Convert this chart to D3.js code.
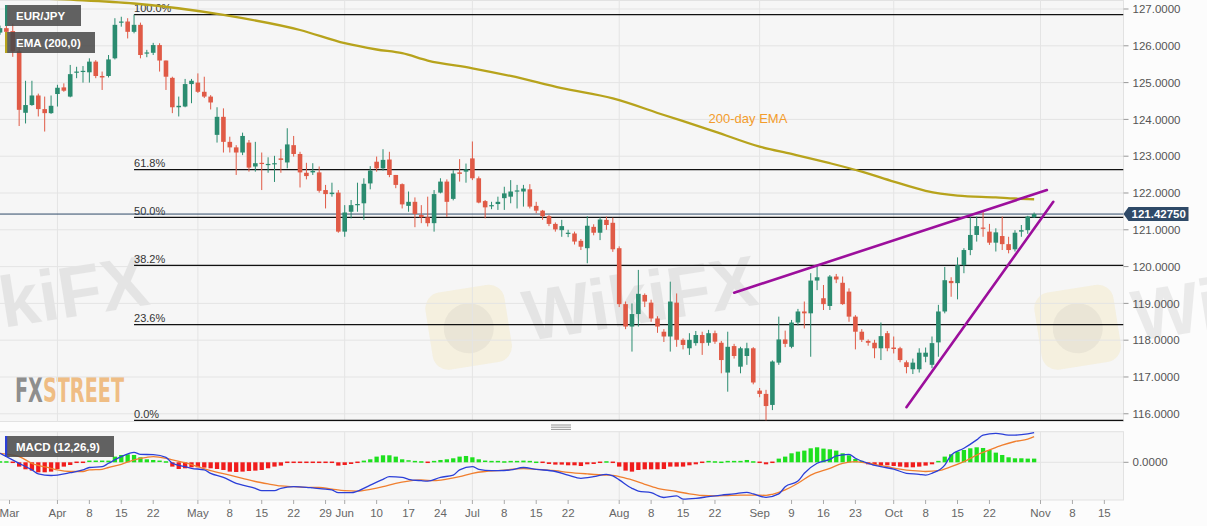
<!DOCTYPE html>
<html>
<head>
<meta charset="utf-8">
<script src="https://cdn.jsdelivr.net/npm/d3@7"></script>
<style>
  html, body { margin: 0; padding: 0; background: #fcfcfc; }
  svg { display: block; font-family: "Liberation Sans", Arial, sans-serif; }
</style>
</head>
<body>
<svg id="chart" width="1207" height="526"></svg>
<script>
// ---- data (EUR/JPY daily, 19 Mar 2019 -> 31 Oct 2019) ----
const firstDay = "2019-03-19";
const lastAxisDay = "2019-11-20";

const open = [
  126.36,126.48,126.40,125.85,124.18,124.39,124.65,124.28,124.17,
  124.69,124.87,124.62,125.28,125.30,125.28,125.57,125.18,125.18,125.66,
  126.63,126.66,126.38,126.57,125.80,125.81,126.02,125.60,125.13,124.33,
  124.35,124.96,125.00,124.75,124.62,123.58,124.07,123.39,123.24,123.10,
  123.37,122.72,122.82,122.76,122.79,122.94,122.83,123.30,123.06,122.55,
  122.56,122.56,122.08,121.97,122.01,120.95,121.49,121.67,121.72,122.26,
  122.85,122.67,122.91,122.49,122.24,121.65,121.76,121.40,121.34,121.18,
  122.01,122.31,121.84,122.56,122.58,122.94,122.40,121.78,121.64,121.70,
  121.86,121.90,122.04,122.04,122.10,121.65,121.52,121.37,121.16,120.99,
  120.89,120.90,120.70,120.50,121.08,120.92,121.27,121.19,120.50,118.98,
  118.37,118.71,119.23,119.02,118.59,118.23,118.10,119.02,118.01,117.78,
  117.92,118.14,117.93,118.19,117.93,117.12,117.84,117.28,117.57,117.78,
  116.63,116.54,116.24,117.39,118.02,117.82,118.48,118.78,118.73,119.62,
  119.14,118.93,119.73,119.56,119.32,118.64,118.23,117.98,117.93,117.78,
  118.19,117.80,117.78,117.40,117.21,117.21,117.55,117.33,117.94,118.78,
  119.61,119.55,120.04,120.45,120.86,121.06,120.95,120.65,120.83,120.61,
  120.47,120.95,120.99,121.34
];
const high = [
  126.55,126.60,126.60,125.95,125.05,125.05,124.70,124.62,124.65,
  124.94,124.98,125.48,125.43,125.45,125.66,125.61,125.30,125.75,126.75,
  126.79,126.75,126.85,126.63,125.89,126.08,126.07,125.60,125.16,124.62,
  125.10,125.10,125.25,125.16,124.66,124.33,124.30,123.53,123.30,123.64,
  123.44,123.39,123.10,122.97,123.01,123.19,123.76,123.55,123.12,122.82,
  122.81,122.72,122.22,122.28,122.08,121.67,121.81,122.28,122.40,122.73,
  122.99,123.19,123.12,122.49,122.26,122.04,121.88,121.67,121.90,122.08,
  122.40,122.37,122.62,122.92,122.80,123.40,122.45,121.81,121.76,121.90,
  122.17,122.35,122.22,122.22,122.24,121.76,121.54,121.40,121.20,121.27,
  121.00,120.95,120.75,121.37,121.15,121.34,121.36,121.33,120.55,119.05,
  119.00,119.91,119.27,119.10,118.65,118.30,119.59,119.27,118.05,118.19,
  118.25,118.23,118.28,118.26,117.98,118.23,117.90,117.82,117.93,117.81,
  116.70,116.65,117.45,118.64,118.26,118.55,118.85,119.05,119.82,120.02,
  119.50,119.77,119.80,119.73,119.41,118.68,118.30,118.02,118.01,118.48,
  118.25,118.10,117.82,117.45,117.50,117.78,117.80,118.10,118.96,119.99,
  119.71,120.25,120.50,121.36,121.36,121.49,121.16,121.04,121.36,120.81,
  120.99,121.13,121.38,121.47
];
const low = [
  126.30,126.30,125.70,123.82,123.89,124.37,124.08,123.67,124.15,
  124.35,124.75,124.60,125.12,125.00,125.00,125.12,124.80,125.14,125.63,
  126.52,126.20,126.34,125.66,125.69,125.75,125.30,124.80,124.17,124.08,
  124.33,124.44,124.72,124.58,124.27,123.37,123.10,123.10,122.49,123.03,
  122.58,122.58,122.08,122.55,122.30,122.55,122.67,122.99,122.15,122.37,
  122.49,122.01,121.58,121.90,120.92,120.81,121.31,121.49,121.27,122.10,
  122.58,122.61,122.43,122.13,121.58,121.49,121.07,121.18,121.09,120.95,
  121.99,121.35,121.80,122.31,122.28,122.35,121.72,121.31,121.56,121.54,
  121.54,121.72,121.58,121.63,121.58,121.45,121.27,121.10,120.95,120.81,
  120.80,120.60,120.45,120.09,120.85,120.72,121.00,120.40,118.90,118.30,
  117.69,118.37,118.90,118.50,118.20,117.95,117.69,117.82,117.75,117.60,
  117.85,117.60,117.85,117.90,117.10,116.60,117.50,117.10,117.33,116.80,
  116.45,115.82,116.10,117.33,117.81,117.78,118.40,118.32,117.55,119.36,
  118.82,118.82,119.55,118.96,118.50,117.75,117.95,117.85,117.51,117.46,
  117.70,117.64,117.40,117.10,117.08,117.12,117.40,117.24,117.55,118.73,
  119.18,119.11,119.82,120.31,120.68,120.81,120.59,120.41,120.45,120.36,
  120.41,120.81,120.89,121.32
];
const close = [
  126.48,126.38,125.85,124.26,124.39,124.65,124.28,124.17,124.37,
  124.86,124.78,125.23,125.30,125.32,125.57,125.18,125.14,125.63,126.57,
  126.66,126.38,126.57,125.75,125.82,126.02,125.60,125.16,124.33,124.37,
  124.96,125.05,124.75,124.62,124.46,124.07,123.39,123.24,123.10,123.55,
  122.69,122.81,122.79,122.79,122.81,122.90,123.32,123.06,122.56,122.46,
  122.60,122.06,121.97,122.01,120.95,121.47,121.67,121.70,122.25,122.61,
  122.67,122.90,122.49,122.22,121.69,121.76,121.43,121.34,121.18,121.97,
  122.31,121.76,122.53,122.52,122.64,122.40,121.74,121.61,121.67,121.76,
  121.99,122.04,122.07,122.12,121.63,121.52,121.37,121.16,121.01,121.10,
  120.92,120.68,120.54,121.11,120.92,121.28,121.13,120.47,118.98,118.37,
  118.71,119.26,119.05,118.59,118.37,118.10,119.05,118.01,117.87,118.01,
  118.14,117.92,118.19,117.96,117.46,117.82,117.57,117.78,117.78,116.85,
  116.54,116.21,117.42,118.02,117.90,118.48,118.78,118.73,119.62,119.71,
  118.98,119.73,119.65,118.98,118.64,118.23,118.01,117.93,117.78,118.11,
  117.78,117.76,117.46,117.27,117.39,117.66,117.66,117.92,118.78,119.63,
  119.55,120.04,120.45,120.86,121.10,121.04,120.65,120.93,120.61,120.45,
  120.92,120.99,121.36,121.43
];

// 200-day EMA, [trading-day number, value]
const ema200 = [
  [0,127.32],[12,127.245],[21,127.15],[35,126.84],[47,126.43],[54,126.07],
  [59,125.90],[63,125.80],[67,125.60],[74,125.39],[80,125.18],[88,124.85],
  [96,124.57],[104,124.12],[112,123.67],[119,123.26],[124,123.06],[130,122.81],
  [135,122.58],[140,122.31],[145,122.06],[150,121.93],[156,121.88],[159,121.85],
  [162,121.83]
];

// MACD (12,26,9)
const macdLine = [
  [0,0.225],[3,-0.025],[5,-0.19],[6,-0.29],[8,-0.33],[9,-0.32],[11,-0.26],[13,-0.19],
  [14,-0.13],[16,-0.11],[17,-0.025],[19,0.14],[21,0.25],[22,0.2],[24,0.19],[26,0.125],
  [27,-0.025],[29,-0.11],[30,-0.15],[32,-0.19],[33,-0.275],[35,-0.375],[37,-0.525],
  [38,-0.57],[40,-0.65],[41,-0.71],[43,-0.71],[44,-0.65],[46,-0.61],[48,-0.625],
  [49,-0.64],[51,-0.67],[52,-0.69],[53,-0.76],[55,-0.76],[56,-0.72],[58,-0.57],
  [60,-0.425],[61,-0.36],[63,-0.375],[64,-0.425],[66,-0.46],[67,-0.47],[69,-0.375],
  [71,-0.32],[72,-0.19],[74,-0.11],[75,-0.175],[77,-0.21],[78,-0.21],[80,-0.19],
  [82,-0.13],[84,-0.175],[87,-0.23],[89,-0.32],[91,-0.4],[93,-0.36],[95,-0.3],
  [96,-0.34],[97,-0.44],[99,-0.65],[100,-0.72],[102,-0.76],[104,-0.88],[106,-0.84],
  [107,-0.92],[109,-0.9],[111,-0.86],[113,-0.82],[115,-0.79],[117,-0.75],[118,-0.79],
  [120,-0.875],[122,-0.79],[123,-0.61],[125,-0.47],[126,-0.275],[128,-0.025],
  [130,0.075],[131,0.16],[133,0.2],[134,0.1],[136,-0.025],[138,-0.11],[140,-0.17],
  [142,-0.275],[144,-0.3],[145,-0.32],[146,-0.275],[148,-0.07],[149,0.18],[151,0.35],
  [153,0.56],[154,0.68],[156,0.725],[158,0.68],[159,0.68],[161,0.71],[162,0.74]
];
const signalLine = [
  [0,0.225],[3,0.14],[5,-0.025],[8,-0.15],[9,-0.19],[11,-0.23],[13,-0.23],[14,-0.19],
  [16,-0.175],[17,-0.13],[19,-0.05],[21,0.06],[23,0.125],[24,0.14],[26,0.1],[27,0.06],
  [29,-0.01],[31,-0.11],[33,-0.21],[36,-0.32],[38,-0.4],[40,-0.48],[42,-0.54],
  [44,-0.59],[46,-0.61],[48,-0.625],[50,-0.63],[52,-0.67],[54,-0.71],[56,-0.72],
  [58,-0.675],[60,-0.61],[62,-0.525],[64,-0.47],[66,-0.44],[68,-0.46],[70,-0.42],
  [72,-0.36],[74,-0.275],[76,-0.23],[78,-0.21],[82,-0.16],[84,-0.175],[87,-0.21],
  [89,-0.25],[92,-0.29],[95,-0.32],[96,-0.325],[97,-0.36],[99,-0.44],[101,-0.55],
  [103,-0.65],[106,-0.73],[108,-0.79],[110,-0.83],[112,-0.84],[114,-0.83],[116,-0.82],
  [118,-0.82],[120,-0.825],[121,-0.8],[123,-0.69],[125,-0.525],[127,-0.32],[130,-0.15],
  [132,-0.025],[134,0.015],[135,0],[137,-0.05],[139,-0.11],[141,-0.17],[143,-0.21],
  [145,-0.23],[147,-0.21],[149,-0.11],[151,0.015],[153,0.18],[155,0.31],[157,0.43],
  [159,0.52],[161,0.58],[162,0.64]
];
const macdHist = [
  0.008,0.008,-0.017,-0.108,-0.175,-0.208,-0.25,-0.25,-0.233,
  -0.167,-0.108,-0.067,-0.017,-0.008,0.025,0.025,0.025,0.042,0.142,
  0.183,0.2,0.183,0.125,0.075,0.058,0.025,0.008,-0.108,-0.167,
  -0.15,-0.125,-0.125,-0.133,-0.15,-0.167,-0.192,-0.233,-0.242,-0.233,
  -0.217,-0.208,-0.192,-0.15,-0.108,-0.083,-0.025,-0.008,-0.004,-0.017,
  -0.004,-0.025,-0.025,-0.033,-0.083,-0.067,-0.042,-0.017,0.042,0.075,
  0.142,0.175,0.175,0.142,0.075,0.033,0.017,0.008,-0.017,0.017,
  0.058,0.075,0.1,0.142,0.158,0.125,0.075,0.025,0.017,0.017,
  0.008,0.017,0.017,0.042,0.017,0,-0.025,-0.042,-0.058,-0.058,
  -0.075,-0.075,-0.092,-0.05,-0.042,-0.008,0.008,-0.017,-0.108,-0.208,
  -0.233,-0.192,-0.175,-0.175,-0.175,-0.167,-0.108,-0.108,-0.108,-0.075,
  -0.05,-0.025,0.017,0.008,0,0.017,0.017,0.017,0.058,0.008,
  -0.025,-0.05,-0.008,0.092,0.142,0.225,0.267,0.292,0.35,0.375,
  0.342,0.325,0.292,0.225,0.175,0.083,0.017,-0.05,-0.075,-0.075,
  -0.075,-0.092,-0.108,-0.125,-0.125,-0.108,-0.083,-0.05,0.017,0.142,
  0.2,0.267,0.308,0.35,0.375,0.358,0.308,0.242,0.183,0.125,
  0.1,0.1,0.092,0.092
];

// Fibonacci retracement
const swingHigh = 126.85;
const swingLow = 115.82;
const swingHighDay = "2019-04-17";
const fibRatios = [1, 0.618, 0.5, 0.382, 0.236, 0];
const fibLabels = ["100.0%", "61.8%", "50.0%", "38.2%", "23.6%", "0.0%"];

// trend lines
const upperTrend = [["2019-08-27", 119.29], ["2019-11-04", 122.08]];
const lowerTrend = [["2019-10-03", 116.18], ["2019-11-05", 121.76]];

const lastPrice = 121.4275;
const priceTicks = [116, 117, 118, 119, 120, 121, 122, 123, 124, 125, 126, 127];

const monthStarts = ["2019-04-01","2019-05-01","2019-06-03","2019-07-01","2019-08-01","2019-09-02","2019-10-01","2019-11-01"];
const tickDays = ["2019-03-01","2019-04-01","2019-04-08","2019-04-15","2019-04-22","2019-05-01","2019-05-08",
  "2019-05-15","2019-05-22","2019-05-29","2019-06-03","2019-06-10","2019-06-17","2019-06-24","2019-07-01",
  "2019-07-08","2019-07-15","2019-07-22","2019-08-01","2019-08-08","2019-08-15","2019-08-22","2019-09-02",
  "2019-09-09","2019-09-16","2019-09-23","2019-10-01","2019-10-08","2019-10-15","2019-10-22","2019-11-01",
  "2019-11-08","2019-11-15"];
const tickLabels = ["Mar","Apr","8","15","22","May","8","15","22","29","Jun","10","17","24","Jul",
  "8","15","22","Aug","8","15","22","Sep","9","16","23","Oct","8","15","22","Nov","8","15"];

// ---- trading-day calendar (weekdays) ----
const days = [];
{
  let t = Date.parse(firstDay + "T00:00:00Z");
  const end = Date.parse(lastAxisDay + "T00:00:00Z");
  while (t <= end) {
    const wd = new Date(t).getUTCDay();
    if (wd !== 0 && wd !== 6) days.push(new Date(t).toISOString().slice(0, 10));
    t += 86400000;
  }
}
const dayIdx = new Map(days.map((d, i) => [d, i]));
const di = (d) => dayIdx.has(d) ? dayIdx.get(d) : -1;

// ---- layout ----
const W = 1207, H = 526;
const plotR = 1123.5;
const mainT = 0, mainB = 421.5;
const subT = 431.7, subB = 500;

const UP = "#2b8c70", DOWN = "#e05a46";

const svg = d3.select("#chart");

const x = d3.scaleLinear().domain([0, days.length - 1]).range([0, plotR]);
const y = d3.scaleLinear().domain([115.79, 127.245]).range([mainB, mainT]);
const ym = d3.scaleLinear().domain([-0.9425, 0.765]).range([subB, subT]);

const defs = svg.append("defs");
defs.append("clipPath").attr("id", "clipMain")
  .append("rect").attr("x", 0).attr("y", mainT).attr("width", plotR).attr("height", mainB - mainT);
defs.append("clipPath").attr("id", "clipSub")
  .append("rect").attr("x", 0).attr("y", subT).attr("width", plotR).attr("height", subB - subT);

svg.append("rect").attr("width", W).attr("height", H).attr("fill", "#fcfcfc");

// panels
svg.append("rect").attr("x", -1).attr("y", mainT + 0.5).attr("width", plotR + 1).attr("height", mainB - mainT - 0.5)
  .attr("fill", "#f6f6f6").attr("stroke", "#e2e2e2");
svg.append("rect").attr("x", -1).attr("y", subT).attr("width", plotR + 1).attr("height", subB - subT)
  .attr("fill", "#f6f6f6").attr("stroke", "#e2e2e2");

// watermark (logo tiles; the word only on the middle row)
const wm = svg.append("g").attr("pointer-events", "none");
[[423, 295, true], [-186, 295, true], [1032, 295, true], [430, -80, false], [1039, -80, false]].forEach(([lx, ly, word]) => {
  const t = wm.append("g").attr("transform", `translate(${lx},${ly}) rotate(-9)`);
  t.append("rect").attr("width", 80).attr("height", 78).attr("rx", 16)
    .attr("fill", "#f2dc8c").attr("opacity", 0.22);
  t.append("circle").attr("cx", 40).attr("cy", 40).attr("r", 25)
    .attr("fill", "#8a8a8a").attr("opacity", 0.1);
  if (word) {
    t.append("text").attr("x", 96).attr("y", 62).text("WikiFX")
      .attr("font-size", 72).attr("font-weight", "bold")
      .attr("textLength", 236).attr("lengthAdjust", "spacingAndGlyphs")
      .attr("fill", "#000").attr("opacity", 0.065);
  }
});

// FXSTREET logo
const fx = svg.append("text").attr("x", 15).attr("y", 401.5)
  .attr("font-family", "'Liberation Sans Narrow','DejaVu Sans Condensed',sans-serif")
  .attr("font-weight", "bold").attr("font-size", 34)
  .attr("textLength", 109).attr("lengthAdjust", "spacingAndGlyphs");
fx.append("tspan").attr("fill", "#8e8e8e").text("FX");
fx.append("tspan").attr("fill", "#efbd84").text("STREET");

// grid
const gGrid = svg.append("g").attr("stroke", "#e4e4e4").attr("stroke-width", 1);
gGrid.selectAll("line.h").data(priceTicks).join("line").attr("class", "h")
  .attr("x1", 0).attr("x2", plotR).attr("y1", d => y(d)).attr("y2", d => y(d));
monthStarts.forEach(d => {
  const xx = x(di(d));
  gGrid.append("line").attr("x1", xx).attr("x2", xx).attr("y1", mainT).attr("y2", mainB);
  gGrid.append("line").attr("x1", xx).attr("x2", xx).attr("y1", subT).attr("y2", subB);
});
gGrid.append("line").attr("x1", 0).attr("x2", plotR).attr("y1", ym(0)).attr("y2", ym(0));

const gMain = svg.append("g").attr("clip-path", "url(#clipMain)");

// fib lines
const fibX0 = x(di(swingHighDay));
fibRatios.forEach((r, k) => {
  const p = swingLow + r * (swingHigh - swingLow);
  gMain.append("line").attr("x1", fibX0).attr("x2", plotR).attr("y1", y(p)).attr("y2", y(p))
    .attr("stroke", "#111").attr("stroke-width", 1.3);
  gMain.append("text").attr("x", fibX0).attr("y", y(p) - 2.5).text(fibLabels[k])
    .attr("font-size", 11).attr("fill", "#333");
});

// EMA
gMain.append("path").datum(ema200)
  .attr("d", d3.line().x(d => x(d[0])).y(d => y(d[1])).curve(d3.curveMonotoneX))
  .attr("fill", "none").attr("stroke", "#b7a31c").attr("stroke-width", 2.3);

// current price line
gMain.append("line").attr("x1", 0).attr("x2", plotR).attr("y1", y(lastPrice)).attr("y2", y(lastPrice))
  .attr("stroke", "#2f4a68").attr("stroke-width", 1);

// candles
const idx = d3.range(open.length);
const bw = 4.6;
gMain.append("g").selectAll("line").data(idx).join("line")
  .attr("x1", i => x(i)).attr("x2", i => x(i))
  .attr("y1", i => y(high[i])).attr("y2", i => y(low[i]))
  .attr("stroke", i => close[i] >= open[i] ? UP : DOWN).attr("stroke-width", 1);
gMain.append("g").selectAll("rect").data(idx).join("rect")
  .attr("x", i => x(i) - bw / 2).attr("width", bw)
  .attr("y", i => y(Math.max(open[i], close[i])))
  .attr("height", i => Math.max(1.2, Math.abs(y(open[i]) - y(close[i]))))
  .attr("fill", i => close[i] >= open[i] ? UP : DOWN);

// trend lines
[upperTrend, lowerTrend].forEach(tl => {
  gMain.append("line")
    .attr("x1", x(di(tl[0][0]))).attr("y1", y(tl[0][1]))
    .attr("x2", x(di(tl[1][0]))).attr("y2", y(tl[1][1]))
    .attr("stroke", "#9c0f9c").attr("stroke-width", 2.6).attr("stroke-linecap", "round");
});

// annotation
gMain.append("text").attr("x", x(di("2019-08-21"))).attr("y", y(123.9)).text("200-day EMA")
  .attr("font-size", 13).attr("fill", "#f39c2c");

// right price axis
const gAx = svg.append("g");
priceTicks.forEach(p => {
  gAx.append("line").attr("x1", plotR).attr("x2", plotR + 5).attr("y1", y(p)).attr("y2", y(p)).attr("stroke", "#999");
  gAx.append("text").attr("x", plotR + 9).attr("y", y(p)).attr("dy", "0.36em")
    .attr("font-size", 11.5).attr("fill", "#555").text(p.toFixed(4));
});
gAx.append("line").attr("x1", plotR).attr("x2", plotR + 5).attr("y1", ym(0)).attr("y2", ym(0)).attr("stroke", "#999");
gAx.append("text").attr("x", plotR + 9).attr("y", ym(0)).attr("dy", "0.36em")
  .attr("font-size", 11.5).attr("fill", "#555").text((0).toFixed(4));

// last price tag
const py = y(lastPrice);
gAx.append("path")
  .attr("d", `M${plotR},${py} L${plotR + 5},${py - 7} L${plotR + 65},${py - 7} L${plotR + 65},${py + 7} L${plotR + 5},${py + 7} Z`)
  .attr("fill", "#2f4a68");
gAx.append("text").attr("x", plotR + 8).attr("y", py).attr("dy", "0.36em")
  .attr("font-size", 11.5).attr("font-weight", "bold").attr("fill", "#fff").text(lastPrice.toFixed(5));

// MACD panel
const gSub = svg.append("g").attr("clip-path", "url(#clipSub)");
const hw = 4.3;
gSub.append("g").selectAll("rect").data(d3.range(macdHist.length)).join("rect")
  .attr("x", i => x(i) - hw / 2).attr("width", hw)
  .attr("y", i => Math.min(ym(0), ym(macdHist[i])) - (Math.abs(ym(macdHist[i]) - ym(0)) < 1.5 ? 0.75 : 0))
  .attr("height", i => Math.max(1.5, Math.abs(ym(macdHist[i]) - ym(0))))
  .attr("fill", i => macdHist[i] >= 0 ? "#1ee01e" : "#f01c1c");
const ml = d3.line().x(d => x(d[0])).y(d => ym(d[1])).curve(d3.curveMonotoneX);
gSub.append("path").datum(signalLine).attr("d", ml)
  .attr("fill", "none").attr("stroke", "#f07f2f").attr("stroke-width", 1.3);
gSub.append("path").datum(macdLine).attr("d", ml)
  .attr("fill", "none").attr("stroke", "#2b3fd8").attr("stroke-width", 1.3);

// x axis
const gX = svg.append("g");
tickDays.forEach((d, k) => {
  const i = di(d);
  const xx = i < 0 ? 9.5 : x(i);
  gX.append("line").attr("x1", xx).attr("x2", xx).attr("y1", subB).attr("y2", subB + 4).attr("stroke", "#aaa");
  gX.append("text").attr("x", Math.max(xx, 9.5)).attr("y", 517).attr("text-anchor", "middle")
    .attr("font-size", 11.5).attr("fill", "#666").text(tickLabels[k]);
});

// panel resize handle
[425, 427.2, 429.4].forEach(yy => {
  svg.append("line").attr("x1", 551).attr("x2", 571).attr("y1", yy).attr("y2", yy)
    .attr("stroke", "#888").attr("stroke-width", 0.9);
});

// legend boxes
function legendBox(bx, by, w, label, swatch) {
  const g = svg.append("g");
  g.append("rect").attr("x", bx).attr("y", by).attr("width", w).attr("height", 21)
    .attr("fill", "rgba(72,72,72,0.86)");
  g.append("rect").attr("x", bx).attr("y", by).attr("width", 2.2).attr("height", 21).attr("fill", swatch);
  g.append("text").attr("x", bx + 11).attr("y", by + 15).text(label)
    .attr("font-size", 11.5).attr("font-weight", "bold").attr("fill", "#fff");
}
legendBox(5, 5, 76, "EUR/JPY", "#2b8c70");
legendBox(5, 32, 90, "EMA (200,0)", "#b7a31c");
legendBox(5, 436, 109, "MACD (12,26,9)", "#2b3fd8");
</script>
</body>
</html>
